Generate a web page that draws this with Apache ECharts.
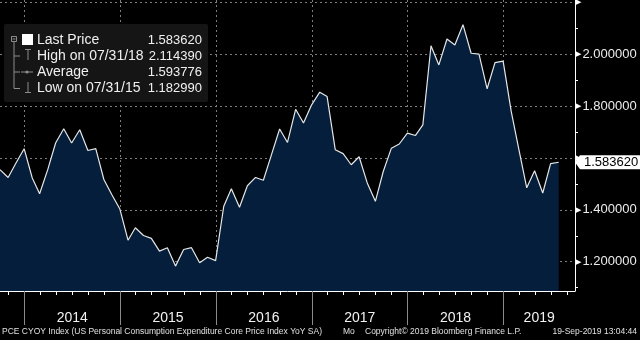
<!DOCTYPE html>
<html>
<head>
<meta charset="utf-8">
<script src="https://cdn.jsdelivr.net/npm/echarts@6/dist/echarts.min.js"></script>
<style>
  html, body { margin: 0; padding: 0; background: #000; }
  #chart { width: 640px; height: 340px; }
</style>
</head>
<body>
<div id="chart"></div>
<script>
// Month-end observation dates
const monthEnds = [
  '2013-09-30', '2013-10-31', '2013-11-30', '2013-12-31',
  '2014-01-31', '2014-02-28', '2014-03-31', '2014-04-30', '2014-05-31', '2014-06-30',
  '2014-07-31', '2014-08-31', '2014-09-30', '2014-10-31', '2014-11-30', '2014-12-31',
  '2015-01-31', '2015-02-28', '2015-03-31', '2015-04-30', '2015-05-31', '2015-06-30',
  '2015-07-31', '2015-08-31', '2015-09-30', '2015-10-31', '2015-11-30', '2015-12-31',
  '2016-01-31', '2016-02-29', '2016-03-31', '2016-04-30', '2016-05-31', '2016-06-30',
  '2016-07-31', '2016-08-31', '2016-09-30', '2016-10-31', '2016-11-30', '2016-12-31',
  '2017-01-31', '2017-02-28', '2017-03-31', '2017-04-30', '2017-05-31', '2017-06-30',
  '2017-07-31', '2017-08-31', '2017-09-30', '2017-10-31', '2017-11-30', '2017-12-31',
  '2018-01-31', '2018-02-28', '2018-03-31', '2018-04-30', '2018-05-31', '2018-06-30',
  '2018-07-31', '2018-08-31', '2018-09-30', '2018-10-31', '2018-11-30', '2018-12-31',
  '2019-01-31', '2019-02-28', '2019-03-31', '2019-04-30', '2019-05-31', '2019-06-30',
  '2019-07-31'
];

// Core PCE price index, year-over-year %
const coreYoY = [
  1.555, 1.525, 1.581, 1.636,
  1.523, 1.462, 1.555, 1.658, 1.713, 1.658, 1.709, 1.629, 1.636, 1.517, 1.459, 1.403,
  1.283, 1.331, 1.301, 1.290, 1.241, 1.254, 1.18299, 1.247, 1.254, 1.196, 1.217, 1.204,
  1.414, 1.481, 1.410, 1.493, 1.525, 1.514, 1.613, 1.712, 1.660, 1.788, 1.735, 1.805,
  1.854, 1.837, 1.632, 1.617, 1.574, 1.605, 1.504, 1.433, 1.548, 1.638, 1.654, 1.696,
  1.687, 1.728, 2.033, 1.959, 2.059, 2.036, 2.11439, 2.004, 2.001, 1.867, 1.968, 1.974,
  1.779, 1.638, 1.485, 1.551, 1.465, 1.578, 1.58362
];

const yearStarts = ['2014-01-01', '2015-01-01', '2016-01-01', '2017-01-01', '2018-01-01', '2019-01-01'];
const valueTicks = [1.2, 1.4, 1.6, 1.8, 2.0, 2.2];
const valueMinorTicks = [1.1, 1.3, 1.5, 1.7, 1.9, 2.1];
const statedAverage = 1.593776;

const axisStart = '2013-09-30';
const axisEnd = '2019-10-01';
const valueMin = 1.087;
const valueMax = 2.2095;

const FONT = '"Liberation Sans", Arial, sans-serif';

// dates are placed on a numeric axis as day counts
const DAY = 86400000;
const ts = s => { const [y, m, d] = s.split('-').map(Number); return Date.UTC(y, m - 1, d) / DAY; };
const startTs = ts(axisStart), endTs = ts(axisEnd);

// Year labels sit in the middle of each year's visible span
const yearLabelPositions = yearStarts.map((s, i) => {
  const a = Math.max(ts(s), startTs);
  const b = Math.min(i + 1 < yearStarts.length ? ts(yearStarts[i + 1]) : endTs, endTs);
  return (a + b) / 2;
});

// Small ticks every other month between the year ticks
const bimonthTicks = [ts('2013-11-01')];
for (let y = 2014; y <= 2019; y++) {
  [3, 5, 7, 9, 11].forEach(m => {
    const t = Date.UTC(y, m - 1, 1) / DAY;
    if (t < endTs) bimonthTicks.push(t);
  });
}

const lastValue = coreYoY[coreYoY.length - 1];
let hiIdx = 0, loIdx = 0;
coreYoY.forEach((v, i) => { if (v > coreYoY[hiIdx]) hiIdx = i; if (v < coreYoY[loIdx]) loIdx = i; });
const usDate = s => { const [y, m, d] = s.split('-'); return m + '/' + d + '/' + y.slice(2); };

const chart = echarts.init(document.getElementById('chart'), null, { renderer: 'canvas' });

const gray = '#8c8c8c';
const line = (x1, y1, x2, y2) => ({
  type: 'line', z: 11, silent: true,
  shape: { x1, y1, x2, y2 }, style: { stroke: gray, lineWidth: 1 }
});
const text = (x, y, str, align, size, fill) => ({
  type: 'text', z: 11, silent: true, x, y,
  style: { text: str, fill: fill || '#f0f0f0', font: size + 'px ' + FONT, align: align, verticalAlign: 'middle' }
});

const overlay = [
  { type: 'rect', z: 10, silent: true, shape: { x: 4, y: 24, width: 204, height: 78, r: 2 }, style: { fill: '#151515' } },
  // tree connectors
  { type: 'rect', z: 11, silent: true, shape: { x: 11.5, y: 36.5, width: 5, height: 5 }, style: { stroke: gray, fill: null, lineWidth: 1 } },
  line(12.5, 39, 15.5, 39),
  line(14, 42, 14, 88.5),
  line(14, 56, 20, 56),
  line(14, 72, 20, 72),
  line(14, 88.5, 20, 88.5),
  // series swatch
  { type: 'rect', z: 11, silent: true, shape: { x: 22, y: 34, width: 11, height: 11 }, style: { fill: '#ffffff' } },
  // high marker
  line(25, 49.5, 31, 49.5), line(28, 49.5, 28, 60),
  // average marker
  line(21, 72, 33, 72),
  { type: 'circle', z: 11, silent: true, shape: { cx: 27, cy: 72, r: 1.6 }, style: { fill: gray } },
  // low marker
  line(28, 82, 28, 92.5), line(25, 92.5, 31, 92.5),
  text(37, 40.5, 'Last Price', 'left', 14),
  text(37, 56, 'High on ' + usDate(monthEnds[hiIdx]), 'left', 14),
  text(37, 72, 'Average', 'left', 14),
  text(37, 88, 'Low on ' + usDate(monthEnds[loIdx]), 'left', 14),
  text(202, 40.5, lastValue.toFixed(6), 'right', 13),
  text(202, 56, coreYoY[hiIdx].toFixed(6), 'right', 13),
  text(202, 72, statedAverage.toFixed(6), 'right', 13),
  text(202, 88, coreYoY[loIdx].toFixed(6), 'right', 13),
  // footer
  text(2, 332, 'PCE CYOY Index (US Personal Consumption Expenditure Core Price Index YoY SA)', 'left', 8.5, '#e0e0e0'),
  text(343, 332, 'Mo', 'left', 8.5, '#e0e0e0'),
  text(365, 332, 'Copyright\u00a9 2019 Bloomberg Finance L.P.', 'left', 8.5, '#e0e0e0'),
  text(637, 332, '19-Sep-2019 13:04:44', 'right', 8.5, '#e0e0e0')
];

// tick labels that would sit under the last-value tag are left out
const labelText = v => {
  if (valueMax - v < 0.03 || Math.abs(v - lastValue) < 0.04) return '{t|▶}';
  return '{t|▶}{v|' + v.toFixed(6) + '}';
};

chart.setOption({
  backgroundColor: '#000',
  animation: false,
  grid: { left: 0, right: 65, top: 0, bottom: 49, show: false, outerBoundsMode: 'none' },
  xAxis: [
    {
      type: 'value', min: startTs, max: endTs, position: 'bottom', z: 3,
      axisLine: { show: true, onZero: false, lineStyle: { color: '#ffffff', width: 1 } },
      axisTick: { show: true, customValues: yearStarts.map(ts), length: 34, lineStyle: { color: '#8a8a8a', width: 1 } },
      splitLine: { show: true, lineStyle: { color: '#7d7d7d', width: 1, type: [2, 3] } },
      axisLabel: {
        customValues: yearLabelPositions, margin: 20,
        color: '#f2f2f2', fontSize: 14, fontFamily: FONT,
        formatter: v => String(new Date(v * DAY).getUTCFullYear())
      }
    },
    {
      type: 'value', min: startTs, max: endTs, position: 'bottom', z: 3,
      axisLine: { show: false, onZero: false },
      axisTick: { show: true, customValues: bimonthTicks, length: 4, lineStyle: { color: '#ffffff', width: 1 } },
      splitLine: { show: false },
      axisLabel: { show: false }
    }
  ],
  yAxis: [
    {
      type: 'value', min: valueMin, max: valueMax, position: 'right', z: 3,
      axisLine: { show: true, lineStyle: { color: '#ffffff', width: 1 } },
      axisTick: { show: false, customValues: valueTicks },
      splitLine: { show: true, lineStyle: { color: '#7d7d7d', width: 1, type: [2, 3] } },
      axisLabel: {
        customValues: valueTicks, margin: 1,
        formatter: labelText,
        rich: {
          t: { color: '#ffffff', fontSize: 7, fontFamily: '"DejaVu Sans"', padding: [0, 1, 0, 0] },
          v: { color: '#ececec', fontSize: 13, fontFamily: FONT }
        }
      }
    },
    {
      type: 'value', min: valueMin, max: valueMax, position: 'right', z: 3,
      axisLine: { show: false },
      axisTick: { show: true, customValues: valueMinorTicks, length: 3, lineStyle: { color: '#ffffff', width: 1 } },
      splitLine: { show: false },
      axisLabel: { show: false }
    }
  ],
  series: [{
    type: 'line',
    xAxisIndex: 0, yAxisIndex: 0,
    data: monthEnds.map((d, i) => [ts(d), coreYoY[i]]),
    symbol: 'none',
    lineStyle: { color: '#e6e6e6', width: 1.2 },
    areaStyle: { color: '#041e3b', opacity: 1, origin: 'start' }
  }],
  graphic: overlay
});

// Last-value tag on the right axis, placed through the axis scales
const tagX = chart.convertToPixel({ xAxisIndex: 0 }, endTs);
const tagY = chart.convertToPixel({ yAxisIndex: 0 }, lastValue);
overlay.push(
  { type: 'polygon', z: 30, silent: true,
    shape: { points: [[tagX, tagY], [tagX + 5, tagY - 7], [tagX + 66, tagY - 7], [tagX + 66, tagY + 7], [tagX + 5, tagY + 7]] },
    style: { fill: '#ffffff', stroke: null } },
  { type: 'text', z: 31, silent: true, x: tagX + 9, y: tagY + 0.5,
    style: { text: lastValue.toFixed(6), fill: '#000000', font: '13px ' + FONT, align: 'left', verticalAlign: 'middle' } }
);
chart.setOption({ graphic: overlay });
</script>
</body>
</html>
